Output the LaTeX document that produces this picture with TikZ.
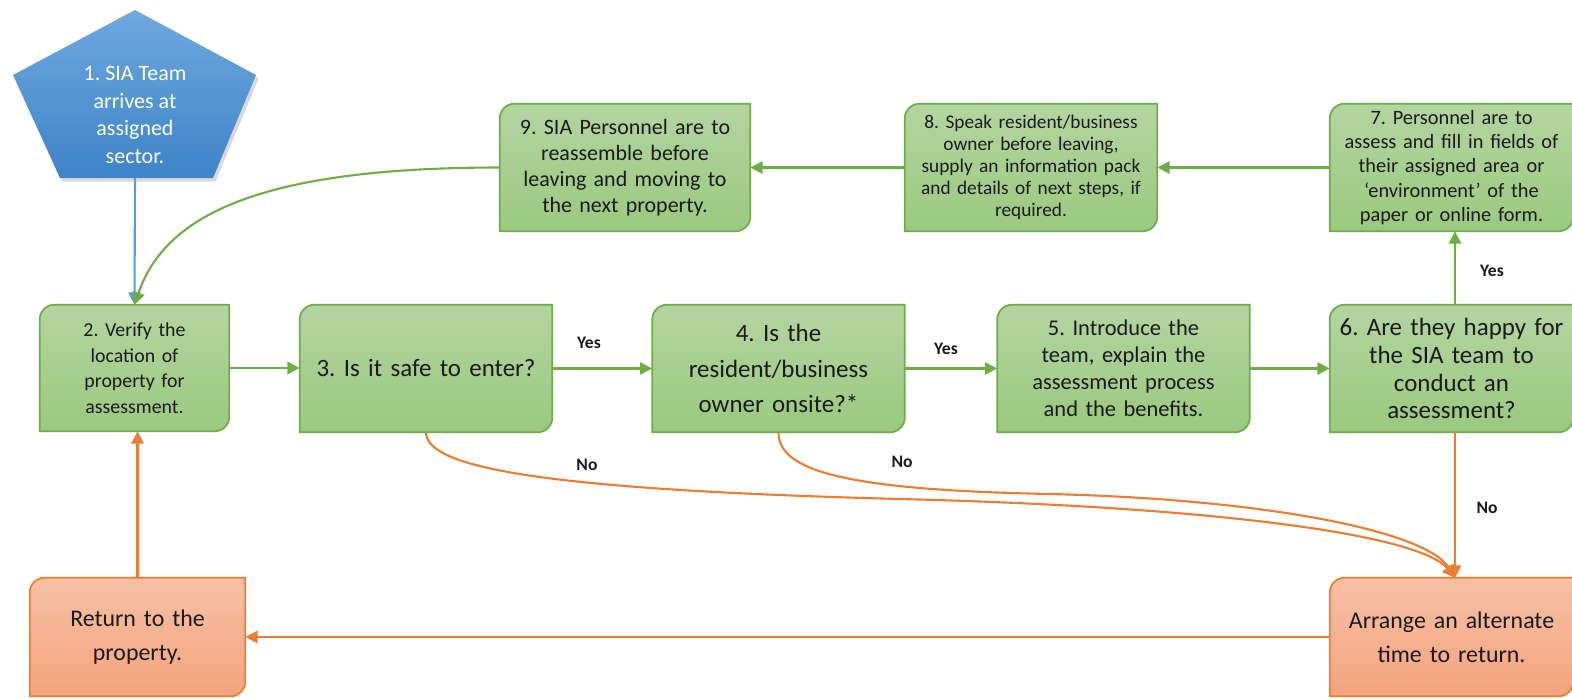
\documentclass[tikz,border=0pt]{standalone}
\usepackage{fontspec}
\setmainfont{Carlito}
\usetikzlibrary{arrows.meta,backgrounds,shadows,positioning,calc}

\definecolor{sgreen}{HTML}{70AD47}
\definecolor{sgreentop}{HTML}{B4D5A1}
\definecolor{sgreenbot}{HTML}{9BC97F}
\definecolor{sorange}{HTML}{ED7D31}
\definecolor{sorangetop}{HTML}{F6C0A6}
\definecolor{sorangebot}{HTML}{F4A47E}
\definecolor{sblue}{HTML}{5B9BD5}
\definecolor{sbluetop}{HTML}{70A8DF}
\definecolor{sbluebot}{HTML}{3D84C8}
\definecolor{stext}{HTML}{1A1A1A}

\newcommand{\fs}[2]{\fontsize{#1}{#2}\selectfont}
\def\crad{0.3cm}
\frenchspacing

\begin{document}
\begin{tikzpicture}[x=0.02cm,y=0.02cm,
    txt/.style={align=center, text=stext, inner sep=2pt},
    gbox/.style={txt, minimum width=5.04cm, minimum height=2.54cm, text width=4.8cm},
    gfill/.style={draw=sgreen, line width=1pt, top color=sgreentop, bottom color=sgreenbot},
    ofill/.style={draw=sorange, line width=1pt, top color=sorangetop, bottom color=sorangebot},
    garrow/.style={draw=sgreen, line width=1.2pt, -{Triangle[length=7pt,width=7pt]}},
    oarrow/.style={draw=sorange, line width=1.2pt, -{Triangle[length=7pt,width=7pt]}},
    lbl/.style={font=\bfseries\fs{10}{12}, text=stext}]
    \useasboundingbox (0,0) rectangle (1572,-698);

    % Start (pentagon)
    \path[top color=sbluetop, bottom color=sbluebot, drop shadow={opacity=0.3, shadow xshift=1.5pt, shadow yshift=-2pt}]
        (135,-10) -- (256,-75) -- (213,-178) -- (60,-178) -- (13,-75) -- cycle;
    \node[txt, text=white, font=\fs{12.5}{15.6}] (n1) at (135,-115) {1. SIA Team\\arrives at\\assigned\\sector.};
    \coordinate (n1s) at (135,-178);

    % Steps
    \node[gbox, minimum width=3.78cm, minimum height=2.52cm, text width=3.5cm, font=\fs{11.3}{14.5}] (n2) at (134.5,-368) {2. Verify the\\location of\\property for\\assessment.};
    \node[gbox, font=\fs{14.2}{18}] (n3) at (426,-368.5) {3. Is it safe to enter?};
    \node[gbox, font=\fs{14.2}{20.4}] (n4) at (778.5,-368.5) {4. Is the\\resident/business\\owner onsite?*};
    \node[gbox, font=\fs{12.8}{15.3}] (n5) at (1123.5,-368.5) {5. Introduce the\\team, explain the\\assessment process\\and the benefits.};
    \node[gbox, minimum width=4.86cm, text width=4.6cm, font=\fs{14.2}{15.9}] (n6) at (1451.5,-368.5) {6. Are they happy for\\the SIA team to\\conduct an\\assessment?};
    \node[gbox, minimum width=4.86cm, text width=4.6cm, font=\fs{11.6}{13.9}] (n7) at (1451.5,-167.5) {7. Personnel are to\\assess and fill in fields of\\their assigned area or\\‘environment’ of the\\paper or online form.};
    \node[gbox, font=\fs{11}{12.5}] (n8) at (1031,-167.5) {8. Speak resident/business\\owner before leaving,\\supply an information pack\\and details of next steps, if\\required.};
    \node[gbox, minimum width=5cm, font=\fs{12.5}{14.7}] (n9) at (625,-167.5) {9. SIA Personnel are to\\reassemble before\\leaving and moving to\\the next property.};

    % Return boxes
    \node[gbox, minimum width=4.3cm, minimum height=2.36cm, text width=4cm, font=\fs{13.6}{19.3}] (ret) at (137.5,-637) {Return to the\\property.};
    \node[gbox, minimum width=4.86cm, minimum height=2.36cm, text width=4.6cm, font=\fs{13.6}{19.3}] (alt) at (1451.5,-637) {Arrange an alternate\\time to return.};

    % Box outlines
    \begin{scope}[on background layer]
        \foreach \n in {n2,n3,n4,n5,n6,n7,n8,n9}
            \draw[gfill] ([yshift=-\crad]\n.north west) arc[start angle=180, end angle=90, radius=\crad] -- (\n.north east)
                -- ([yshift=\crad]\n.south east) arc[start angle=0, end angle=-90, radius=\crad] -- (\n.south west) -- cycle;
        \foreach \n in {ret,alt}
            \draw[ofill] ([yshift=-\crad]\n.north west) arc[start angle=180, end angle=90, radius=\crad] -- (\n.north east)
                -- ([yshift=\crad]\n.south east) arc[start angle=0, end angle=-90, radius=\crad] -- (\n.south west) -- cycle;
    \end{scope}

    % Connections
    \draw[draw=sblue, line width=1.2pt, -{Triangle[length=7pt,width=7pt]}] (n1s) -- (n2.north);
    \draw[garrow] (n2.east) -- (n2.east -| n3.west);
    \draw[garrow] (n3.east) -- (n4.west);
    \draw[garrow] (n4.east) -- (n5.west);
    \draw[garrow] (n5.east) -- (n6.west);
    \draw[garrow] (n6.north -| 1455,0) -- (n7.south -| 1455,0);
    \draw[garrow] (n7.west) -- (n8.east);
    \draw[garrow] (n8.west) -- (n9.east);
    \draw[garrow] (n9.west) .. controls (260,-167.5) and (165,-215) .. (n2.north);

    % No paths
    \draw[oarrow] (n3.south) .. controls (426,-470) and (560,-490) .. (900,-499) .. controls (1220,-507) and (1420,-535) .. (alt.north -| 1455,0);
    \draw[oarrow] (n4.south) .. controls (778,-472) and (850,-490) .. (1050,-494) .. controls (1260,-499) and (1425,-530) .. (alt.north -| 1455,0);
    \draw[oarrow] (n6.south -| 1455,0) -- (alt.north -| 1455,0);
    \draw[oarrow] (alt.west) -- (ret.east);
    \draw[oarrow] (ret.north) -- (ret.north |- n2.south);

    % Labels
    \node[lbl] (y34) at (589,-343) {Yes};
    \node[lbl] (y45) at (946,-349) {Yes};
    \node[lbl] (y67) at (1492,-271) {Yes};
    \node[lbl] (no3) at (587,-465) {No};
    \node[lbl] (no4) at (902,-462) {No};
    \node[lbl] (no6) at (1487,-508) {No};
\end{tikzpicture}
\end{document}
